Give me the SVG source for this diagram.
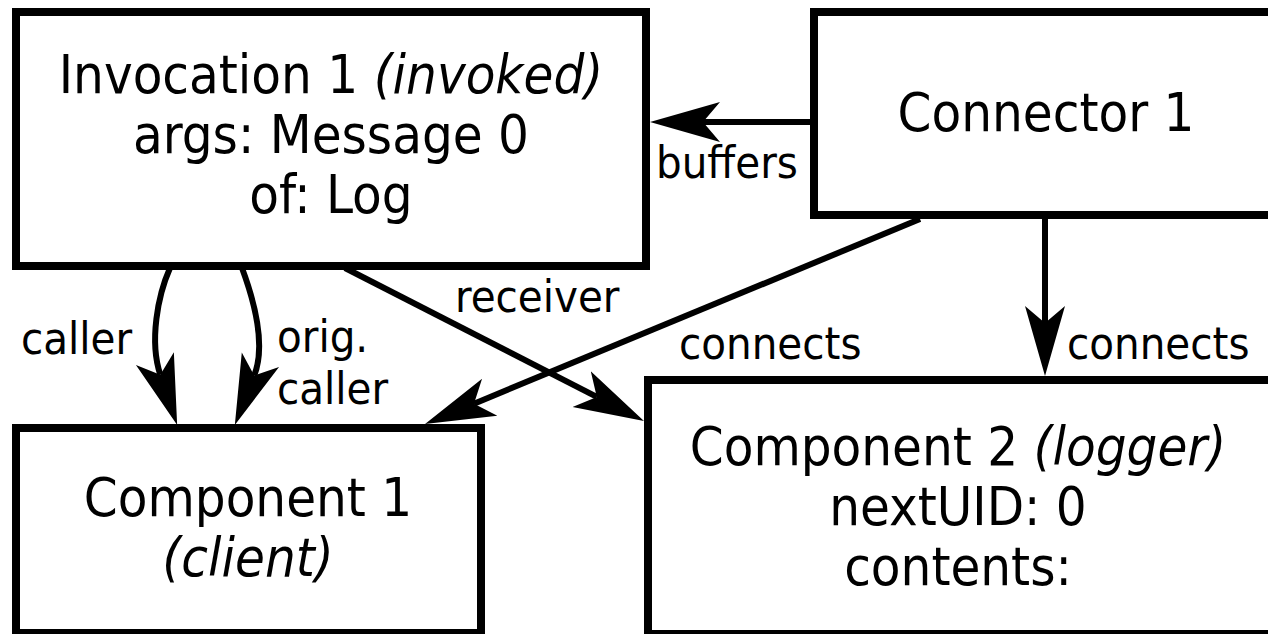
<svg xmlns="http://www.w3.org/2000/svg" width="1268" height="634" viewBox="0 0 1268 634">
<style>
.box{fill:#fff;stroke:#000;stroke-width:8}
.t{font-family:"DejaVu Sans Condensed","DejaVu Sans",sans-serif;font-stretch:condensed;font-size:54px;fill:#000;text-anchor:middle}
.l{font-family:"DejaVu Sans Condensed","DejaVu Sans",sans-serif;font-stretch:condensed;font-size:45px;fill:#000}
.i{font-style:italic}
.e{fill:none;stroke:#000;stroke-width:6}
</style>
<defs>
<marker id="ah" markerUnits="userSpaceOnUse" markerWidth="72" markerHeight="44" viewBox="0 0 72 44" refX="17" refY="22" orient="auto">
<path d="M0,2 L70,22 L0,42 L17,22 Z" fill="#000"/>
</marker>
</defs>
<rect width="1268" height="634" fill="#fff"/>
<g id="invocation1">
<rect class="box" x="16" y="12" width="630" height="254"/>
<text class="t" x="331" y="93">Invocation 1 <tspan class="i">(invoked)</tspan></text>
<text class="t" x="331" y="153">args: Message 0</text>
<text class="t" x="331" y="213">of: Log</text>
</g>
<g id="connector1">
<rect class="box" x="814" y="12" width="470" height="203"/>
<text class="t" x="1046" y="131">Connector 1</text>
</g>
<g id="component1">
<rect class="box" x="16" y="428" width="465" height="205"/>
<text class="t" x="248" y="516">Component 1</text>
<text class="t i" x="248" y="576">(client)</text>
</g>
<g id="component2">
<rect class="box" x="648" y="380" width="630" height="254"/>
<text class="t" x="958" y="465">Component 2 <tspan class="i">(logger)</tspan></text>
<text class="t" x="958" y="525">nextUID: 0</text>
<text class="t" x="958" y="585">contents:</text>
</g>
<g id="connectors">
<path class="e" d="M810,122 L703,122" marker-end="url(#ah)"/>
<path class="e" d="M170,268 C158,295 149,341 160.3,374.7" marker-end="url(#ah)"/>
<path class="e" d="M242,268 C252,295 267,343 254.2,375.6" marker-end="url(#ah)"/>
<path class="e" d="M345,268 L596.8,396.9" marker-end="url(#ah)"/>
<path class="e" d="M920,219 L474,403.7" marker-end="url(#ah)"/>
<path class="e" d="M1045,219 L1045,323" marker-end="url(#ah)"/>
<text class="l" x="656" y="178">buffers</text>
<text class="l" x="21" y="354">caller</text>
<text class="l" x="277" y="352">orig.</text>
<text class="l" x="277" y="404">caller</text>
<text class="l" x="455" y="312">receiver</text>
<text class="l" x="679" y="359">connects</text>
<text class="l" x="1067" y="359">connects</text>
</g>
</svg>
